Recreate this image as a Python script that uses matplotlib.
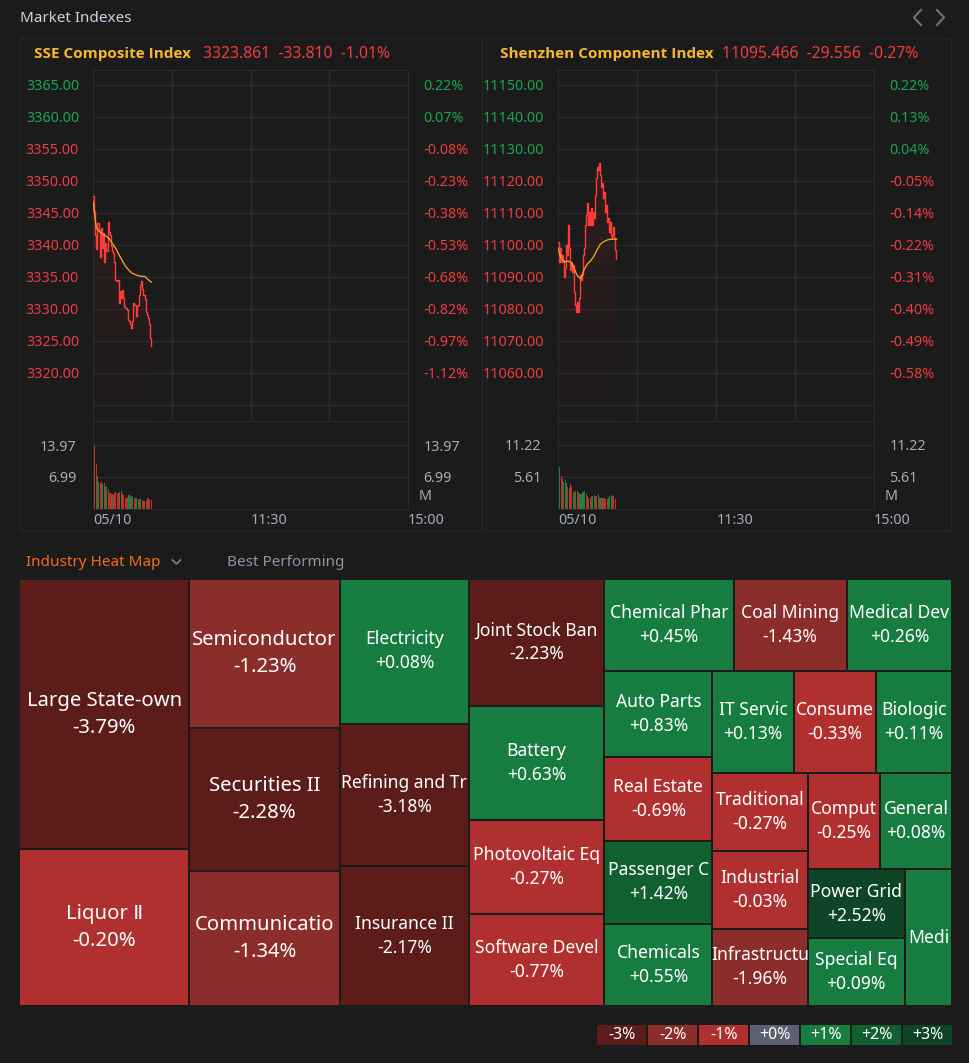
import numpy as np
import matplotlib.pyplot as plt
from matplotlib.patches import Rectangle
from matplotlib.colors import LinearSegmentedColormap

plt.rcParams['font.family'] = ['Noto Sans', 'DejaVu Sans']

# ---------------- data ----------------
sse_name = 'SSE Composite Index'
sse_quote = '3323.861  -33.810  -1.01%'
sse_prev = 3357.671
sse_price = [3347.6, 3345.3, 3341.6, 3339.3, 3343.4, 3342.4, 3338.2, 3342.7, 3339.5, 3341.9,
             3337.4, 3340.3, 3339.0, 3343.6, 3342.1, 3341.6, 3339.8, 3339.0, 3338.8, 3337.4,
             3334.6, 3334.3, 3334.6, 3330.9, 3332.8, 3331.7, 3333.0, 3331.7, 3330.4, 3330.2,
             3329.9, 3328.3, 3328.1, 3327.6, 3327.0, 3328.1, 3330.9, 3330.6, 3328.9, 3330.4,
             3330.6, 3332.2, 3333.8, 3334.3, 3333.2, 3332.2, 3331.5, 3329.6, 3329.1, 3328.6,
             3327.6, 3325.5, 3324.2]
sse_avg = [3346.8, 3342.7, 3342.1, 3341.7, 3341.4, 3341.0, 3340.2, 3339.5, 3338.5, 3337.6,
           3336.7, 3336.1, 3335.6, 3335.4, 3335.2, 3335.1, 3335.1, 3334.6, 3334.2]
sse_ticks = [3320, 3325, 3330, 3335, 3340, 3345, 3350, 3355, 3360, 3365]
sse_pct = ['-1.12%', '-0.97%', '-0.82%', '-0.68%', '-0.53%', '-0.38%', '-0.23%', '-0.08%', '0.07%', '0.22%']
sse_vol = [5.2, 14.0, 9.8, 7.2, 6.0, 5.6, 6.0, 5.5, 5.6, 4.9, 5.1, 4.3, 3.6, 3.4, 3.3, 3.1,
           3.4, 3.8, 3.6, 3.6, 3.8, 3.9, 3.3, 3.1, 2.5, 2.5, 2.7, 3.1, 2.8, 2.7, 2.8, 2.5,
           2.3, 2.3, 2.2, 2.1, 2.2, 2.0, 1.7, 1.7, 1.8, 2.3, 2.1, 2.1, 2.0]
sse_vol_dir = 'rrrggrrgrggrrrrgrrrrrgrrrrrggrgrrggrgrrrgrrrr'
sse_vol_ticks = [6.99, 13.97]

szse_name = 'Shenzhen Component Index'
szse_quote = '11095.466  -29.556  -0.27%'
szse_prev = 11125.022
szse_price = [11100.8, 11094.8, 11099.0, 11094.8, 11096.9, 11095.3, 11090.1, 11092.7, 11100.0, 11096.9,
              11106.3, 11099.0, 11092.2, 11094.8, 11091.7, 11093.8, 11085.4, 11081.3, 11079.2, 11082.3,
              11079.2, 11083.3, 11090.6, 11089.1, 11090.6, 11096.9, 11099.0, 11106.3, 11109.4, 11113.0,
              11106.3, 11110.4, 11106.3, 11111.5, 11106.3, 11110.4, 11108.3, 11115.6, 11120.8, 11124.5,
              11123.4, 11125.5, 11121.9, 11118.2, 11119.3, 11114.6, 11116.7, 11110.4, 11112.5, 11107.3,
              11108.3, 11104.2, 11107.3, 11103.1, 11102.1, 11103.1, 11105.7, 11102.1, 11098.4, 11095.6]
szse_avg = [11099.0, 11095.8, 11094.6, 11095.0, 11094.6, 11092.5, 11090.4, 11089.4, 11092.2, 11094.0,
            11095.0, 11096.4, 11098.4, 11100.2, 11101.0, 11101.5, 11101.8, 11101.8, 11101.8]
szse_ticks = [11060, 11070, 11080, 11090, 11100, 11110, 11120, 11130, 11140, 11150]
szse_pct = ['-0.58%', '-0.49%', '-0.40%', '-0.31%', '-0.22%', '-0.14%', '-0.05%', '0.04%', '0.13%', '0.22%']
szse_vol = [11.2, 7.3, 5.8, 5.2, 4.8, 5.1, 4.6, 3.9, 3.6, 4.4, 3.9, 3.0, 2.9, 3.2, 3.2, 3.0,
            2.7, 2.6, 2.9, 2.9, 3.2, 2.6, 2.3, 2.0, 2.0, 2.2, 2.3, 2.5, 2.2, 2.2, 2.6, 2.0,
            2.0, 2.0, 1.9, 1.9, 1.8, 1.8, 1.9, 2.2, 2.5, 2.2, 2.2, 1.7]
szse_vol_dir = 'rgrrgggrrrrgrggrrgggg' + 'rrrgrggrrgrrgrrrrgggrrr'
szse_vol_ticks = [5.61, 11.22]

time_labels = ['05/10', '11:30', '15:00']

industries = ['Large State-own', 'Liquor Ⅱ', 'Semiconductor', 'Securities II', 'Communicatio',
              'Electricity', 'Refining and Tr', 'Insurance II', 'Joint Stock Ban', 'Battery',
              'Photovoltaic Eq', 'Software Devel', 'Chemical Phar', 'Coal Mining', 'Medical Dev',
              'Auto Parts', 'Real Estate', 'Passenger C', 'Chemicals', 'IT Servic',
              'Consume', 'Biologic', 'Traditional', 'Industrial', 'Infrastructu',
              'Comput', 'General', 'Power Grid', 'Special Eq', 'Medi']
changes = [-3.79, -0.20, -1.23, -2.28, -1.34, 0.08, -3.18, -2.17, -2.23, 0.63,
           -0.27, -0.77, 0.45, -1.43, 0.26, 0.83, -0.69, 1.42, 0.55, 0.13,
           -0.33, 0.11, -0.27, -0.03, -1.96, -0.25, 0.08, 2.52, 0.09, 0.50]
weights = [45730, 26520, 22200, 21450, 20100, 18576, 18318, 17931, 17010, 15390,
           12555, 12420, 11868, 10396, 9660, 9180, 9072, 8856, 8856, 8181,
           8282, 7676, 7410, 7315, 7315, 6912, 6912, 6596, 6596, 6392]

legend_labels = ['-3%', '-2%', '-1%', '+0%', '+1%', '+2%', '+3%']
legend_colors = ['#5c1d1a', '#8b2d2b', '#b03030', '#5b6170', '#177c3f', '#11602f', '#0e4526']

# ---------------- style ----------------
W, H = 969, 1063
BG = '#1b1b1b'
LINE = '#2b2b2b'
GRAY = '#a3adbb'
GREEN = '#1ca64c'
RED = '#f03c3c'
AXFS = 10.3

fig = plt.figure(figsize=(W / 100, H / 100), dpi=100, facecolor=BG)
bg = fig.add_axes([0, 0, 1, 1])
bg.set_xlim(0, W)
bg.set_ylim(H, 0)
bg.axis('off')


def px_axes(x0, y0, x1, y1):
    a = fig.add_axes([x0 / W, 1 - y1 / H, (x1 - x0) / W, (y1 - y0) / H])
    a.set_facecolor('none')
    for s in a.spines.values():
        s.set_color(LINE)
    return a


bg.text(20, 18, 'Market Indexes', color='#c9d3e1', fontsize=11, va='center')
for xs in ([921, 914, 921], [937, 944, 937]):
    bg.plot(xs, [10, 17.5, 25], color='#6f6f6f', lw=1.6)

fill_cmap = LinearSegmentedColormap.from_list('f', ['#1d1b1b', '#2f1d1d'])


def index_panel(px0, px1, ax0, ax1, name, quote, quote_x, prev, price, avg, ticks, pct,
                vol, vol_dir, vol_ticks, ppu):
    bg.add_patch(Rectangle((px0, 38), px1 - px0, 493, fill=False, ec='#262626', lw=1))
    bg.text(px0 + 14, 54, name, color='#f7b82e', fontsize=11, fontweight='bold',
            family=['Open Sans', 'DejaVu Sans'], va='center')
    bg.text(quote_x, 54, quote, color=RED, fontsize=11.3, va='center')

    ytop = ticks[-1] + 15 / ppu
    ybot = ticks[0] - 48 / ppu
    ax = px_axes(ax0, 70, ax1, 421)
    ax.set_xlim(0, 240)
    ax.set_ylim(ybot, ytop)
    step = ticks[1] - ticks[0]
    ax.set_yticks([ticks[0] - step] + ticks)
    ax.set_yticklabels([''] + ['%.2f' % v for v in ticks])
    ax.set_xticks([60, 120, 180])
    ax.set_xticklabels([])
    ax.grid(True, color=LINE, lw=1)
    ax.tick_params(length=0, pad=10, labelsize=AXFS)
    for lbl, v in zip(ax.get_yticklabels()[1:], ticks):
        lbl.set_color(GREEN if v > prev else RED)
    ax2 = ax.twinx()
    ax2.set_ylim(ybot, ytop)
    ax2.set_yticks(ticks)
    ax2.set_yticklabels(pct)
    ax2.tick_params(length=0, pad=11, labelsize=AXFS)
    for s in ax2.spines.values():
        s.set_visible(False)
    for lbl, p in zip(ax2.get_yticklabels(), pct):
        lbl.set_color(RED if p.startswith('-') else GREEN)

    t = np.linspace(0, 44.4, len(price))
    poly = ax.fill_between(t, price, ybot, step='post', color='none')
    grad = ax.imshow(np.linspace(1, 0, 100).reshape(-1, 1), cmap=fill_cmap, aspect='auto',
                     extent=[0, 45, ybot, max(price)], zorder=1)
    grad.set_clip_path(poly.get_paths()[0], transform=ax.transData)
    ax.set_xlim(0, 240)
    ax.set_ylim(ybot, ytop)
    ax.plot(t, price, drawstyle='steps-post', color='#ff3a3a', lw=1, zorder=3)
    ta = np.linspace(0, 44.4, len(avg))
    ax.plot(ta, avg, color='#f59a23', lw=1, zorder=3)

    vtop = 88 / 32 * vol_ticks[0]
    vax = px_axes(ax0, 421, ax1, 509)
    vax.set_xlim(-0.5, 240)
    vax.set_ylim(0, vtop)
    vcols = ['#c0302d' if d == 'r' else '#13883f' for d in vol_dir]
    vax.bar(np.arange(len(vol)), vol, width=0.8, color=vcols[:len(vol)], zorder=2)
    vax.set_yticks(vol_ticks)
    vax.set_yticklabels(['%.2f' % v for v in vol_ticks])
    vax.yaxis.grid(True, color=LINE, lw=1)
    vax.set_xticks([-0.5, 120, 240])
    vax.set_xticklabels(time_labels, ha='left')
    vax.tick_params(length=0, pad=12, labelsize=AXFS, colors=GRAY)
    vax.tick_params(axis='x', pad=3)
    vax2 = vax.twinx()
    vax2.set_ylim(0, vtop)
    vax2.set_yticks(vol_ticks)
    vax2.set_yticklabels(['%.2f' % v for v in vol_ticks])
    vax2.tick_params(length=0, pad=11, labelsize=AXFS, colors=GRAY)
    for s in vax2.spines.values():
        s.set_visible(False)
    bg.text(ax1 + 11, 497, 'M', color=GRAY, fontsize=AXFS, va='center')


index_panel(20, 482, 93, 408, sse_name, sse_quote, 203, sse_prev, sse_price, sse_avg,
            sse_ticks, sse_pct, sse_vol, sse_vol_dir, sse_vol_ticks, 6.4)
index_panel(486, 951, 558, 874, szse_name, szse_quote, 722, szse_prev, szse_price, szse_avg,
            szse_ticks, szse_pct, szse_vol, szse_vol_dir, szse_vol_ticks, 3.2)

# ---------------- heat map ----------------
bg.text(26, 562, 'Industry Heat Map', color='#f26b1d', fontsize=11, va='center')
bg.plot([172.5, 176.5, 180.5], [560, 564, 560], color='#7d8591', lw=1.2)
bg.text(227, 562, 'Best Performing', color='#8a96a8', fontsize=11, va='center')


def worst(row, side):
    s = sum(row)
    return max(max(side * side * r / (s * s), s * s / (side * side * r)) for r in row)


def squarify(vals, x, y, w, h):
    areas = [v * w * h / sum(vals) for v in vals]
    rects = []
    i = 0
    while i < len(areas):
        side = min(w, h)
        row = [areas[i]]
        j = i + 1
        while j < len(areas) and worst(row + [areas[j]], side) <= worst(row, side):
            row.append(areas[j])
            j += 1
        s = sum(row)
        if w >= h:
            cw = s / h
            yy = y
            for a in row:
                rects.append((x, yy, cw, a / cw))
                yy += a / cw
            x += cw
            w -= cw
        else:
            ch = s / w
            xx = x
            for a in row:
                rects.append((xx, y, a / ch, ch))
                xx += a / ch
            y += ch
            h -= ch
        i = j
    return rects


def heat_color(c):
    if c <= -2:
        return legend_colors[0]
    if c <= -1:
        return legend_colors[1]
    if c < 0:
        return legend_colors[2]
    if c == 0:
        return legend_colors[3]
    if c < 1:
        return legend_colors[4]
    if c < 2:
        return legend_colors[5]
    return legend_colors[6]


for (x, y, w, h), name, c, wt in zip(squarify(weights, 19, 579, 933, 427), industries, changes, weights):
    bg.add_patch(Rectangle((x + 1, y + 1), w - 2, h - 2, color=heat_color(c), lw=0))
    cx, cy = x + w / 2, y + h / 2
    big = wt >= 19500
    fs = 14.6 if big else 12.6
    off = 13.5 if big else 12
    if w < 60:
        bg.text(cx, cy, name, color='white', fontsize=fs, ha='center', va='center')
        continue
    bg.text(cx, cy - off, name, color='white', fontsize=fs, ha='center', va='center')
    bg.text(cx, cy + off, '%+.2f%%' % c, color='white', fontsize=fs, ha='center', va='center')

for i, (lab, col) in enumerate(zip(legend_labels, legend_colors)):
    x0 = 597 + i * 51
    bg.add_patch(Rectangle((x0, 1025), 49.5, 20, color=col, lw=0))
    bg.text(x0 + 25, 1035, lab, color='white', fontsize=11.5, ha='center', va='center')

fig.savefig('out.png', dpi=100, facecolor=BG)
